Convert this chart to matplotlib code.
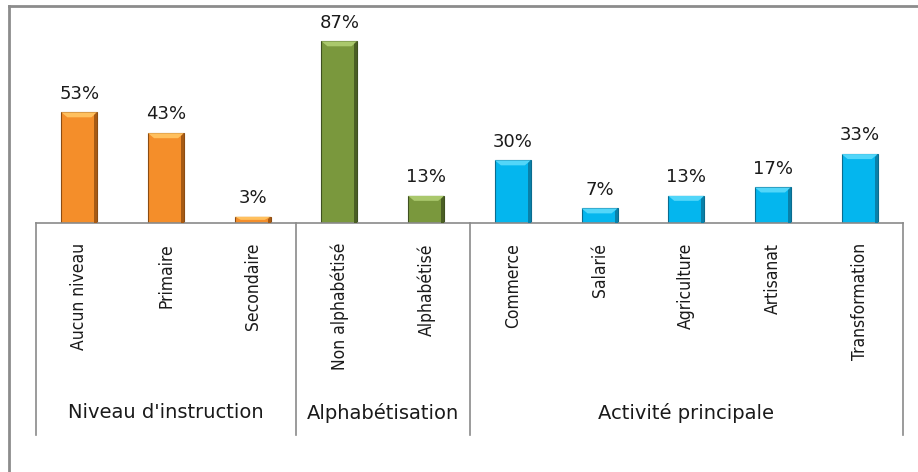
import matplotlib.pyplot as plt
from matplotlib.patches import Polygon
from matplotlib.lines import Line2D

# Survey profile: share of respondents per category (%)
groups = ["Niveau d'instruction", "Alphabétisation", "Activité principale"]
group_sizes = [3, 2, 5]
categories = ["Aucun niveau", "Primaire", "Secondaire",
              "Non alphabétisé", "Alphabétisé",
              "Commerce", "Salarié", "Agriculture", "Artisanat", "Transformation"]
values = [53, 43, 3, 87, 13, 30, 7, 13, 17, 33]

# (face, edge, bevel highlight, bevel shade) per group
palettes = [
    ("#F48E2A", "#8C4C12", "#FFC05E", "#A65A14"),
    ("#7A983D", "#3F5020", "#AAC86C", "#4A5E24"),
    ("#04B6EE", "#0A6C8F", "#52D6F9", "#0A80A8"),
]

W, H = 918, 472
fig = plt.figure(figsize=(W / 100, H / 100), dpi=100)
fig.patch.set_facecolor("white")

# plot area in pixels
left_px, right_px = 36, 903
base_px, top_px = 223, 20
bottom_px = 435
ax = fig.add_axes([left_px / W, 1 - base_px / H,
                   (right_px - left_px) / W, (base_px - top_px) / H])
ymax = 97.2
ax.set_xlim(-0.5, len(values) - 0.5)
ax.set_ylim(0, ymax)
ax.axis("off")

px_x = len(values) / (right_px - left_px)   # data units per pixel
px_y = ymax / (base_px - top_px)
bar_w = 0.415
bev_x = 6 * px_x
bev_y = 5 * px_y

colors = []
for g, n in enumerate(group_sizes):
    colors += [palettes[g]] * n

for i, (v, c) in enumerate(zip(values, colors)):
    face, edge, hi, shade = c
    x0, x1 = i - bar_w / 2, i + bar_w / 2
    ax.bar(i, v, width=bar_w, color=face, edgecolor=edge, linewidth=0.8, zorder=2)
    b = min(bev_y, v / 2)
    # bevel: light top, darker right side
    ax.add_patch(Polygon([(x0, v), (x1, v), (x1 - bev_x, v - b), (x0 + bev_x, v - b)],
                         closed=True, facecolor=hi, edgecolor="none", zorder=3))
    ax.add_patch(Polygon([(x1, v), (x1, 0), (x1 - 3 * px_x, 0), (x1 - 3 * px_x, v - b * 0.6)],
                         closed=True, facecolor=shade, edgecolor="none", zorder=3))
    ax.annotate(f"{v}%", (i, v), xytext=(0, 7), textcoords="offset points",
                ha="center", va="bottom", fontsize=13, family="DejaVu Sans", color="#1a1a1a")

# category table below the axis
line_kw = dict(color="#8a8a8a", linewidth=1.2, clip_on=False, transform=ax.transAxes)
low = (base_px - bottom_px) / (base_px - top_px)
ax.add_line(Line2D([0, 1], [0, 0], **line_kw))
edges = [0]
for n in group_sizes:
    edges.append(edges[-1] + n)
for e in edges:
    xa = e / len(values)
    ax.add_line(Line2D([xa, xa], [0, low], **line_kw))

tick_y = -(243 - base_px) / (base_px - top_px)
trans = ax.get_xaxis_transform()
for i, name in enumerate(categories):
    ax.text(i, tick_y, name, rotation=90, ha="center", va="top", transform=trans,
            fontsize=12.5, family="DejaVu Sans", fontstretch="condensed", color="#1a1a1a")

group_y = -(413 - base_px) / (base_px - top_px)
for g, name in enumerate(groups):
    xc = (edges[g] + edges[g + 1]) / 2 - 0.5
    ax.text(xc, group_y, name, ha="center", va="center", transform=trans,
            fontsize=14, family="DejaVu Sans", color="#1a1a1a")

# outer frame (cut at right and bottom)
frame_kw = dict(color="#8c8c8c", linewidth=2, transform=fig.transFigure)
fig.add_artist(Line2D([9 / W, 9 / W], [1 - 6 / H, 0], **frame_kw))
fig.add_artist(Line2D([9 / W, 1], [1 - 6 / H, 1 - 6 / H], **frame_kw))

fig.savefig("out.png", dpi=100)
